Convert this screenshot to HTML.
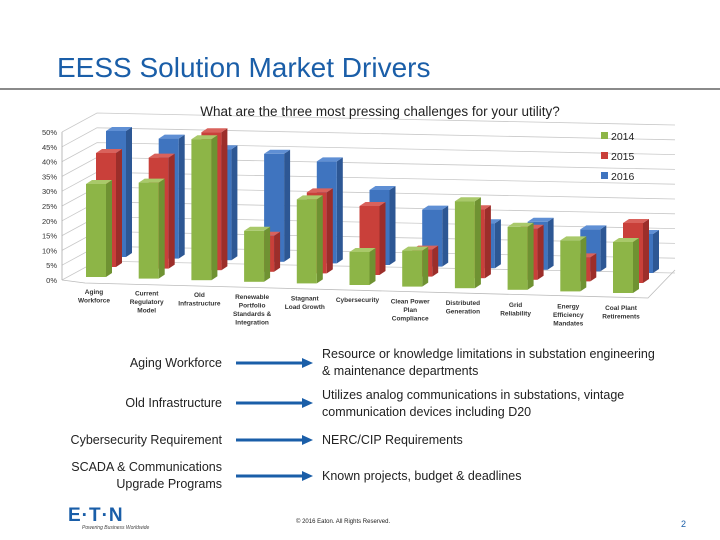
<!DOCTYPE html>
<html><head><meta charset="utf-8">
<style>
body{margin:0;background:#fff;}
#page{position:relative;width:720px;height:540px;overflow:hidden;background:#fff;font-family:"Liberation Sans",sans-serif;}
.t{position:absolute;font-size:12.5px;color:#222;line-height:17px;white-space:nowrap;}
.r{text-align:right;}
</style></head><body>
<div id="page">
<div style="position:absolute;left:57px;top:52px;font-size:28px;color:#1a5ea8;letter-spacing:0px;">EESS Solution Market Drivers</div>
<div style="position:absolute;left:0;top:88px;width:720px;height:2px;background:#8a8a8a;"></div>
<svg id="chart" width="720" height="340" style="position:absolute;left:0;top:0" xmlns="http://www.w3.org/2000/svg"></svg>

<div class="t r" style="right:498px;top:355px;">Aging Workforce</div>
<div class="t r" style="right:498px;top:395px;">Old Infrastructure</div>
<div class="t r" style="right:498px;top:432px;">Cybersecurity Requirement</div>
<div class="t r" style="right:498px;top:459px;">SCADA &amp; Communications<br>Upgrade Programs</div>

<div class="t" style="left:322px;top:346px;">Resource or knowledge limitations in substation engineering<br>&amp; maintenance departments</div>
<div class="t" style="left:322px;top:387px;">Utilizes analog communications in substations, vintage<br>communication devices including D20</div>
<div class="t" style="left:322px;top:432px;">NERC/CIP Requirements</div>
<div class="t" style="left:322px;top:468px;">Known projects, budget &amp; deadlines</div>

<svg width="720" height="540" style="position:absolute;left:0;top:0">
<g fill="#1a5ea8" stroke="#1a5ea8">
<line x1="236" y1="363" x2="304" y2="363" stroke-width="3"/><polygon points="302,358 313,363 302,368" stroke="none"/>
<line x1="236" y1="403" x2="304" y2="403" stroke-width="3"/><polygon points="302,398 313,403 302,408" stroke="none"/>
<line x1="236" y1="440" x2="304" y2="440" stroke-width="3"/><polygon points="302,435 313,440 302,445" stroke="none"/>
<line x1="236" y1="476" x2="304" y2="476" stroke-width="3"/><polygon points="302,471 313,476 302,481" stroke="none"/>
</g>
</svg>

<div style="position:absolute;left:68px;top:505px;font-size:19px;font-weight:bold;color:#1a5ea8;letter-spacing:1px;">E&middot;T&middot;N</div>
<div style="position:absolute;left:82px;top:525px;font-size:5px;color:#444;font-style:italic;">Powering Business Worldwide</div>
<div style="position:absolute;left:296px;top:519px;font-size:6px;color:#222;">© 2016 Eaton. All Rights Reserved.</div>
<div style="position:absolute;left:681px;top:519px;font-size:9px;color:#1a5ea8;">2</div>
</div>
<script>
const categories=[["Aging","Workforce"],["Current","Regulatory","Model"],["Old","Infrastructure"],["Renewable","Portfolio","Standards &","Integration"],["Stagnant","Load Growth"],["Cybersecurity"],["Clean Power","Plan","Compliance"],["Distributed","Generation"],["Grid","Reliability"],["Energy","Efficiency","Mandates"],["Coal Plant","Retirements"]];
const s2014=[31,32,47,17,28,11,12,29,21,17,17];
const s2015=[38,37,46,12,27,23,9,23,17,8,20];
const s2016=[42,40,37,36,34,25,19,15,16,14,13];
const seriesNames=["2014","2015","2016"];
const yTicks=["0%","5%","10%","15%","20%","25%","30%","35%","40%","45%","50%"];

const svg=document.getElementById('chart');
const NS="http://www.w3.org/2000/svg";
function mk(tag,attrs,parent){const e=document.createElementNS(NS,tag);for(const k in attrs)e.setAttribute(k,attrs[k]);(parent||svg).appendChild(e);return e;}
const PX=3; // px per percent
function yScale(v,base){return base-v*PX;}
function groupX(i){return 86+i*52.7;}
function baseY(i,row){return 277+1.6*i-row*10;}

// walls / gridlines
const grid=mk('g',{});


yTicks.forEach((t,k)=>{
  const y=280-k*14.8;
  mk('polyline',{points:`62,${y} 97,${y-19} 675,${y-7}`,fill:'none',stroke:'#c8c8c8','stroke-width':'0.8'},grid);
  const lab=mk('text',{x:57,y:y+3,'text-anchor':'end','font-size':'7.5','fill':'#333','font-family':'Liberation Sans, sans-serif'},svg);
  
  
  lab.textContent=t;
});
mk('line',{x1:62,y1:280,x2:62,y2:132,stroke:'#aaa','stroke-width':'0.8'},grid);
mk('polyline',{points:'62,280 85,283 648,298 675,270',fill:'none',stroke:'#bbb','stroke-width':'0.8'},grid);

const title=mk('text',{x:380,y:116,'text-anchor':'middle','font-size':'13.5','fill':'#222','font-family':'Liberation Sans, sans-serif'});


title.textContent="What are the three most pressing challenges for your utility?";

const colors=[["#8db547","#6f9232","#a9c96a"],["#c9403a","#9c2e2a","#d9625c"],["#3f74bf","#2d5794","#5f8fd4"]];
const series=[s2014,s2015,s2016];
// draw back rows first
for(let row=2;row>=0;row--){
  series[row].forEach((v,i)=>{
    const x=groupX(i)+row*10, b=baseY(i,row), top=yScale(v,b), w=20, d=6;
    const g=mk('g',{});
    
    
    mk('polygon',{points:`${x+w},${top} ${x+w+d},${top-4} ${x+w+d},${b-4} ${x+w},${b}`,fill:colors[row][1]},g);
    mk('polygon',{points:`${x},${top} ${x+d},${top-4} ${x+w+d},${top-4} ${x+w},${top}`,fill:colors[row][2]},g);
    mk('rect',{x:x,y:top,width:w,height:b-top,fill:colors[row][0]},g);
  });
}
// category labels
categories.forEach((lines,i)=>{
  const t=mk('text',{x:groupX(i)+8,y:294+1.6*i,'text-anchor':'middle','font-size':'6.5','font-weight':'bold','fill':'#333','font-family':'Liberation Sans, sans-serif'});
  
  
  lines.forEach((l,j)=>{const ts=mk('tspan',{x:groupX(i)+8,dy:j?8.5:0},t);ts.textContent=l;});
});
// legend
seriesNames.forEach((n,k)=>{
  const g=mk('g',{});
  
  
  mk('rect',{x:601,y:132+k*20,width:7,height:7,fill:colors[k][0]},g);
  const t=mk('text',{x:611,y:140+k*20,'font-size':'10.5','fill':'#222','font-family':'Liberation Sans, sans-serif'},g);
  t.textContent=n;
});
</script>
</body></html>
